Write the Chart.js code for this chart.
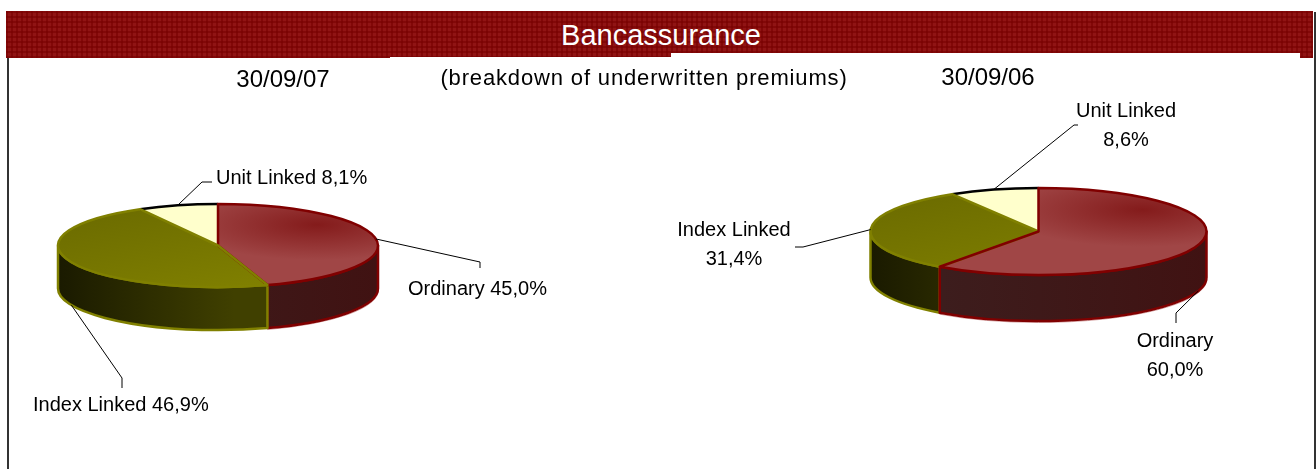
<!DOCTYPE html>
<html>
<head>
<meta charset="utf-8">
<title>Bancassurance</title>
<script src="https://cdn.jsdelivr.net/npm/chart.js@4/dist/chart.umd.js"></script>
<style>
  html, body { margin: 0; padding: 0; background: #fff; overflow: hidden; }
  body { width: 1316px; height: 469px; position: relative; font-family: "Liberation Sans", Arial, sans-serif; color: #000; }
  canvas { position: absolute; top: 0; }
  .band { position: absolute; left: 6px; top: 11px; width: 1307px; height: 47px; background-color: #901414;
    background-image: repeating-linear-gradient(90deg, rgba(120,0,0,.6) 0 2px, transparent 2px 5px), repeating-linear-gradient(0deg, rgba(120,0,0,.6) 0 2px, transparent 2px 5px);
    clip-path: polygon(0 0, 1307px 0, 1307px 47px, 1294px 47px, 1294px 42px, 665px 42px, 665px 46px, 384px 46px, 384px 47px, 0 47px); }
  .band span { position: absolute; left: 3px; right: 0; top: 9px; text-align: center; color: #fff; font-size: 29px; line-height: 30px; }
  .edge { position: absolute; width: 2px; background: #333; bottom: 0; }
  .head { position: absolute; white-space: nowrap; transform: translateX(-50%); font-size: 24px; line-height: 24px; }
</style>
</head>
<body>
<div class="edge" style="left:7px;top:58px"></div>
<div class="edge" style="left:1314px;top:12px"></div>
<canvas id="pie07" width="658" height="469" style="left:0"></canvas>
<canvas id="pie06" width="658" height="469" style="left:658px"></canvas>
<div class="band"><span>Bancassurance</span></div>
<div class="head" style="left:283px;top:67px">30/09/07</div>
<div class="head" style="left:644px;top:66px;font-size:22px;letter-spacing:.85px">(breakdown of underwritten premiums)</div>
<div class="head" style="left:988px;top:65px">30/09/06</div>
<script>
const categories = ['Ordinary', 'Index Linked', 'Unit Linked'];
const values07 = [45.0, 46.9, 8.1];
const values06 = [60.0, 31.4, 8.6];

const topOutline = ['#800000', '#808000', null];
const wallColors = [['#3c2020', '#401212'], ['#1a1a00', '#404000'], ['#000', '#000']];

// elbow = where the leader bends, end = where it stops (canvas px)
const labels07 = [
  { elbow: [480, 262], end: [480, 268], lines: ['Ordinary 45,0%'], x: 408, y: 289, align: 'left' },
  { elbow: [122, 378], end: [122, 388], lines: ['Index Linked 46,9%'], x: 33, y: 405, align: 'left' },
  { elbow: [202, 182], end: [212, 182], lines: ['Unit Linked 8,1%'], x: 216, y: 178, align: 'left' }
];
const labels06 = [
  { elbow: [518, 313], end: [518, 323], lines: ['Ordinary', '60,0%'], x: 517, y: 341, align: 'center' },
  { elbow: [145, 247], end: [137, 247], lines: ['Index Linked', '31,4%'], x: 76, y: 230, align: 'center' },
  { elbow: [416, 125], end: [420, 125], lines: ['Unit Linked', '8,6%'], x: 468, y: 111, align: 'center' }
];

// the pie itself comes from Chart.js, this squashes it and adds wall, outlines and labels
const pie3d = {
  id: 'pie3d',
  beforeDatasetsDraw(chart, args, opts) {
    const ctx = chart.ctx;
    const arcs = chart.getDatasetMeta(0).data;
    drawOrder(chart).forEach(i => {
      const a = arcs[i];
      const from = Math.max(a.startAngle, 0);
      const to = Math.min(a.endAngle, Math.PI);
      if (to <= from) return;
      const rx = a.outerRadius, ry = rx * opts.squash;
      const g = ctx.createLinearGradient(a.x - rx, 0, a.x + rx, 0);
      g.addColorStop(0, wallColors[i][0]);
      g.addColorStop(i == 1 ? 0.55 : 1, wallColors[i][1]);
      if (i == 0) {
        // pale fringe under the red wall
        ctx.beginPath();
        ctx.ellipse(a.x, a.y + opts.depth + 1.5, rx + 0.5, ry, 0, from, to);
        ctx.strokeStyle = '#d8a8a8';
        ctx.lineWidth = 1;
        ctx.stroke();
      }
      ctx.beginPath();
      ctx.ellipse(a.x, a.y, rx, ry, 0, from, to);
      ctx.ellipse(a.x, a.y + opts.depth, rx, ry, 0, to, from, true);
      ctx.closePath();
      ctx.fillStyle = g;
      ctx.fill();
      ctx.strokeStyle = topOutline[i];
      ctx.lineWidth = 2.5;
      ctx.lineJoin = 'round';
      ctx.stroke();
    });
  },
  beforeDatasetDraw(chart, args, opts) {
    const a = chart.getDatasetMeta(0).data[0];
    chart.ctx.save();
    chart.ctx.translate(0, a.y);
    chart.ctx.scale(1, opts.squash);
    chart.ctx.translate(0, -a.y);
  },
  afterDatasetDraw(chart, args, opts) {
    const ctx = chart.ctx;
    ctx.restore();
    const arcs = chart.getDatasetMeta(0).data;
    drawOrder(chart).forEach(i => {
      const a = arcs[i];
      const rx = a.outerRadius, ry = rx * opts.squash;
      ctx.beginPath();
      if (topOutline[i]) {
        ctx.moveTo(a.x, a.y);
        ctx.ellipse(a.x, a.y, rx, ry, 0, a.startAngle, a.endAngle);
        ctx.closePath();
        ctx.strokeStyle = topOutline[i];
      } else {
        ctx.ellipse(a.x, a.y, rx, ry, 0, a.startAngle, a.endAngle);
        ctx.strokeStyle = '#000';
      }
      ctx.lineWidth = 2.5;
      ctx.lineJoin = 'round';
      ctx.stroke();
    });
  },
  afterDatasetsDraw(chart, args, opts) {
    const ctx = chart.ctx;
    chart.getDatasetMeta(0).data.forEach((a, i) => {
      const rx = a.outerRadius, ry = rx * opts.squash;
      const mid = (a.startAngle + a.endAngle) / 2;
      const sy = Math.sin(mid);
      const l = opts.labels[i];
      ctx.beginPath();
      ctx.moveTo(a.x + rx * Math.cos(mid), a.y + ry * sy + (sy > 0 ? opts.depth : 0));
      ctx.lineTo(l.elbow[0], l.elbow[1]);
      ctx.lineTo(l.end[0], l.end[1]);
      ctx.strokeStyle = '#000';
      ctx.lineWidth = 1;
      ctx.stroke();
      ctx.fillStyle = '#000';
      ctx.font = '20px "Liberation Sans", Arial, sans-serif';
      ctx.textAlign = l.align;
      ctx.textBaseline = 'middle';
      l.lines.forEach((t, n) => ctx.fillText(t, l.x, l.y + n * 29));
    });
  }
};

// biggest slice goes last so its edges sit on top
function drawOrder(chart) {
  const vals = chart.data.datasets[0].data;
  return vals.map((v, i) => i).sort((p, q) => vals[p] - vals[q]);
}

function sliceFill(c) {
  const area = c.chart.chartArea;
  if (!area) return '#800000';
  const r = c.chart.options.radius;
  const cx = (area.left + area.right) / 2, cy = (area.top + area.bottom) / 2;
  if (c.dataIndex == 0) {
    const g = c.chart.ctx.createRadialGradient(cx + r * 0.62, cy - r * 0.5, 0, cx + r * 0.62, cy - r * 0.5, r * 0.85);
    g.addColorStop(0, '#841b1b');
    g.addColorStop(1, '#a04646');
    return g;
  }
  if (c.dataIndex == 1) {
    const g = c.chart.ctx.createLinearGradient(cx - r, cy - r * 0.5, cx + r * 0.3, cy + r);
    g.addColorStop(0, '#6d6d00');
    g.addColorStop(1, '#808000');
    return g;
  }
  return '#ffffcc';
}

function makePie(id, values, labels, radius, squash, depth, padding) {
  new Chart(document.getElementById(id), {
    type: 'pie',
    data: {
      labels: categories,
      datasets: [{ data: values, backgroundColor: sliceFill, borderWidth: 0, clip: false }]
    },
    options: {
      responsive: false,
      animation: false,
      radius: radius,
      layout: { padding: padding },
      plugins: {
        legend: { display: false },
        tooltip: { enabled: false },
        pie3d: { squash: squash, depth: depth, labels: labels }
      }
    },
    plugins: [pie3d]
  });
}

makePie('pie07', values07, labels07, 160, 0.26, 43, { left: 0, right: 222, top: 22, bottom: 0 });
makePie('pie06', values06, labels06, 168, 0.259, 46, { left: 103, right: 0, top: 0, bottom: 6 });
</script>
</body>
</html>
